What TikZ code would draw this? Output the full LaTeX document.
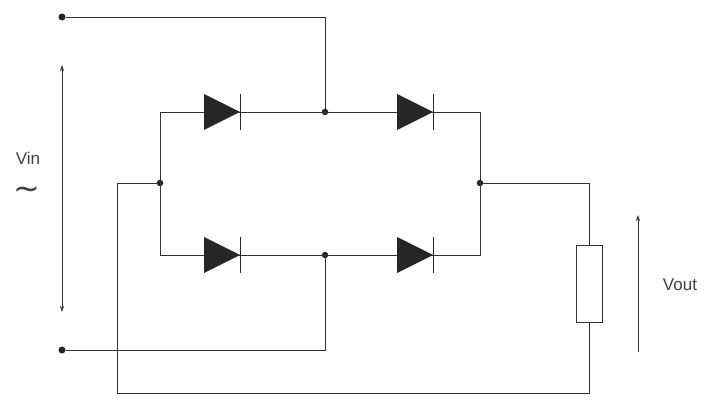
\documentclass[tikz,border=0pt]{standalone}
\usepackage{fontspec}
\setmainfont{Liberation Sans}
\newfontfamily\dejavu{DejaVu Sans}
\usetikzlibrary{arrows.meta}
\begin{document}
\begin{tikzpicture}[x=1pt,y=-1pt,
  wire/.style={line width=0.8pt,black!80},
  dot/.style={circle,fill=black!85,inner sep=0pt,minimum size=6.5pt},
  term/.style={circle,fill=black!85,inner sep=0pt,minimum size=7pt},
  lbl/.style={font=\fontsize{17}{20}\selectfont,text=black!75}]
\useasboundingbox (0,0) rectangle (710,406);
\newcommand{\mydiode}[2]{%
  \fill[black!85] (#1-18,#2-18) -- (#1+18,#2) -- (#1-18,#2+18) -- cycle;
  \draw[line width=1pt,black!85] (#1+18,#2-18) -- (#1+18,#2+18);}
\node[term] (t1) at (62,17) {};
\node[term] (t2) at (62,350) {};
\node[dot] (jt) at (325,112) {};
\node[dot] (jb) at (325,255) {};
\node[dot] (jl) at (160,183) {};
\node[dot] (jr) at (480,183) {};
\coordinate (tl) at (160,112); \coordinate (tr) at (480,112);
\coordinate (bl) at (160,255); \coordinate (br) at (480,255);
\node[draw,line width=0.8pt,black!80,minimum width=26pt,minimum height=77pt,inner sep=0pt] (R) at (589,283.5) {};
\draw[wire] (t1) -| (jt);
\draw[wire] (t2) -| (jb);
\draw[wire] (tl) -- (tr) -- (br) -- (bl) -- cycle;
\draw[wire] (jr) -| (R.north);
\draw[wire] (jl) -- (117,183) -- (117,393) -| (R.south);
\mydiode{222}{112}\mydiode{415}{112}\mydiode{222}{255}\mydiode{415}{255}
\coordinate (a1) at (62,65); \coordinate (a2) at (62,312);
\draw[line width=0.8pt,black!80,{Stealth[length=6pt,width=4pt]}-{Stealth[length=6pt,width=4pt]}] (a1) -- (a2);
\coordinate (b1) at (638,352); \coordinate (b2) at (638,215);
\draw[line width=0.8pt,black!80,-{Stealth[length=6pt,width=4pt]}] (b1) -- (b2);
\node[lbl] (vin) at (28,158) {Vin};
\node[lbl,font=\dejavu\fontsize{32}{34}\selectfont] (tilde) at (27,193) {∼};
\node[lbl] (vout) at (680,285) {Vout};
\end{tikzpicture}
\end{document}
